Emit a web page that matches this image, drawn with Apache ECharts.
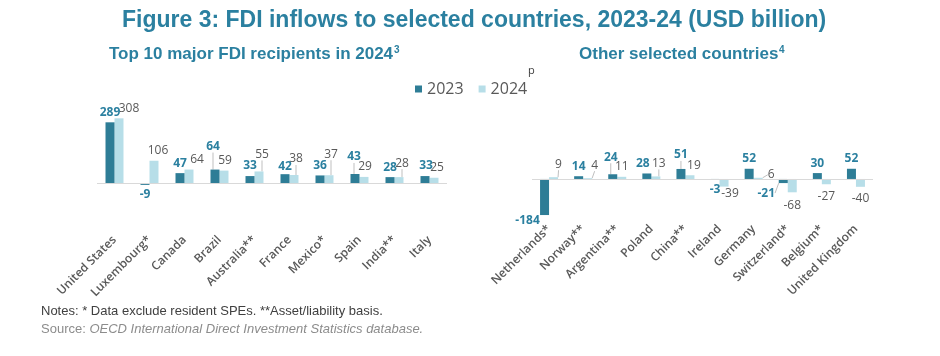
<!DOCTYPE html>
<html><head><meta charset="utf-8">
<script src="https://cdn.jsdelivr.net/npm/echarts@6/dist/echarts.min.js"></script>
<style>html,body{margin:0;padding:0;background:#fff;}#c{width:940px;height:356px;}</style>
</head><body><div id="c"></div>
<script>
// ---- data ----
const leftCategories = ['United States','Luxembourg*','Canada','Brazil','Australia**','France','Mexico*','Spain','India**','Italy'];
const left2023 = [289, -9, 47, 64, 33, 42, 36, 43, 28, 33];
const left2024 = [308, 106, 64, 59, 55, 38, 37, 29, 28, 25];
const rightCategories = ['Netherlands*','Norway**','Argentina**','Poland','China**','Ireland','Germany','Switzerland*','Belgium*','United Kingdom'];
const right2023 = [-184, 14, 24, 28, 51, -3, 52, -21, 30, 52];
const right2024 = [9, 4, 11, 13, 19, -39, 6, -68, -27, -40];
const seriesNames = ['2023', '2024'];

// ---- label placement (layout only) : [dx, dy, showLine] ----
const leftAdj2023 = [[0,0,0],[0,0,0],[0,0,0],[-2,-13,1],[0,0,0],[0,2,0],[0,0,0],[-1,-7,1],[0,0,0],[1,0,0]];
const leftAdj2024 = [[10,0,0],[4,0,0],[8,0,0],[1,0,0],[3,-7,1],[2,-6,1],[2,-11,1],[1,0,0],[3,-4,1],[3,0,0]];
const rightAdj2023 = [[-17,-4,0],[0,0,0],[-2,-7,1],[-4,0,0],[0,-4,1],[0,0,0],[0,0,0],[-17,0,1],[0,0,0],[0,0,0]];
const rightAdj2024 = [[5,-3,1],[7,-3,1],[0,0,0],[3,-3,1],[4,0,0],[6,-3,0],[13,7,1],[0,3,0],[0,2,0],[0,2,0]];

const C23 = '#2E7D96', C24 = '#B7DEE8', TEAL = '#2B80A0', GREY = '#595959';
const HEAD_FONT = 'Liberation Sans Narrow, Liberation Sans, Arial';

function items(vals, adj){
  return vals.map((v,i)=>({value:v, labelLine:{show: !!adj[i][2]},
    label:{position: v < 0 ? 'bottom' : 'top'}}));
}
function barSeries(name, vals, adj, axisIdx, is23){
  const s = {
    name, type:'bar', xAxisIndex:axisIdx, yAxisIndex:axisIdx,
    data: items(vals, adj), barWidth:9, barGap:'0%',
    itemStyle:{color: is23 ? C23 : C24},
    label:{show:true, distance:4, fontFamily:'Open Sans', fontSize:12,
      fontWeight: is23 ? 'bold' : 'normal', color: is23 ? TEAL : GREY},
    labelLayout: function(p){ const a = adj[p.dataIndex]; return {dx:a[0], dy:a[1]}; },
    labelLine:{show:true, lineStyle:{color:'#bfbfbf', width:1}},
    emphasis:{disabled:true}, animation:false
  };
  if (is23) {
    s.markLine = {silent:true, symbol:['none','none'], label:{show:false},
      lineStyle:{color:'#d9d9d9', type:'solid', width:1}, data:[{yAxis:0}], animation:false};
    s.z = 3;
  }
  return s;
}
function axisLabelStyle(margin){
  return {rotate:45, interval:0, margin:margin, fontFamily:'Open Sans', fontSize:12,
    fontWeight:600, color:GREY};
}

const chart = echarts.init(document.getElementById('c'), null, {renderer:'canvas'});
chart.setOption({
  backgroundColor:'#fff',
  animation:false,
  legend:{data:seriesNames, left:410, top:76, itemWidth:7, itemHeight:7, itemGap:15,
    icon:'rect', textStyle:{fontFamily:'Open Sans', fontSize:16, color:GREY}, selectedMode:false},
  grid:[
    {left:97, width:350, top:115.8, height:109.2},
    {left:532, width:341, top:167.2, height:54.9}
  ],
  xAxis:[
    {type:'category', gridIndex:0, data:leftCategories, axisLine:{show:false,onZero:false}, axisTick:{show:false}, axisLabel:axisLabelStyle(13)},
    {type:'category', gridIndex:1, data:rightCategories, axisLine:{show:false,onZero:false}, axisTick:{show:false}, axisLabel:axisLabelStyle(5)}
  ],
  yAxis:[
    {type:'value', gridIndex:0, min:-200, max:320, show:false, splitLine:{show:false}},
    {type:'value', gridIndex:1, min:-220, max:60, show:false, splitLine:{show:false}}
  ],
  series:[
    barSeries('2023', left2023, leftAdj2023, 0, true),
    barSeries('2024', left2024, leftAdj2024, 0, false),
    barSeries('2023', right2023, rightAdj2023, 1, true),
    barSeries('2024', right2024, rightAdj2024, 1, false)
  ],
  graphic:[
    {type:'text', left:122, top:9, style:{text:'Figure 3: FDI inflows to selected countries, 2023-24 (USD billion)',
      fontFamily:HEAD_FONT, fontWeight:'bold', fontSize:23, fill:TEAL}},
    {type:'text', left:109, top:46, style:{text:'Top 10 major FDI recipients in 2024',
      fontFamily:HEAD_FONT, fontWeight:'bold', fontSize:17, fill:TEAL}},
    {type:'text', left:394, top:45, style:{text:'3', fontFamily:HEAD_FONT, fontWeight:'bold', fontSize:10, fill:TEAL}},
    {type:'text', left:579, top:46, style:{text:'Other selected countries',
      fontFamily:HEAD_FONT, fontWeight:'bold', fontSize:17, fill:TEAL}},
    {type:'text', left:779, top:45, style:{text:'4', fontFamily:HEAD_FONT, fontWeight:'bold', fontSize:10, fill:TEAL}},
    {type:'text', left:528, top:65, style:{text:'p', fontFamily:'Open Sans', fontSize:11, fill:'#404040'}},
    {type:'text', left:41, top:305, style:{text:'Notes: * Data exclude resident SPEs. **Asset/liability basis.',
      fontFamily:'Liberation Sans, Arial', fontSize:13, fill:'#404040'}},
    {type:'text', left:41, top:323, style:{rich:{a:{fontFamily:'Liberation Sans, Arial', fontSize:13, fill:'#8c8c8c'},
      b:{fontFamily:'Liberation Sans, Arial', fontSize:13, fontStyle:'italic', fill:'#8c8c8c'}},
      text:'{a|Source: }{b|OECD International Direct Investment Statistics database.}'}}
  ]
});
</script></body></html>
